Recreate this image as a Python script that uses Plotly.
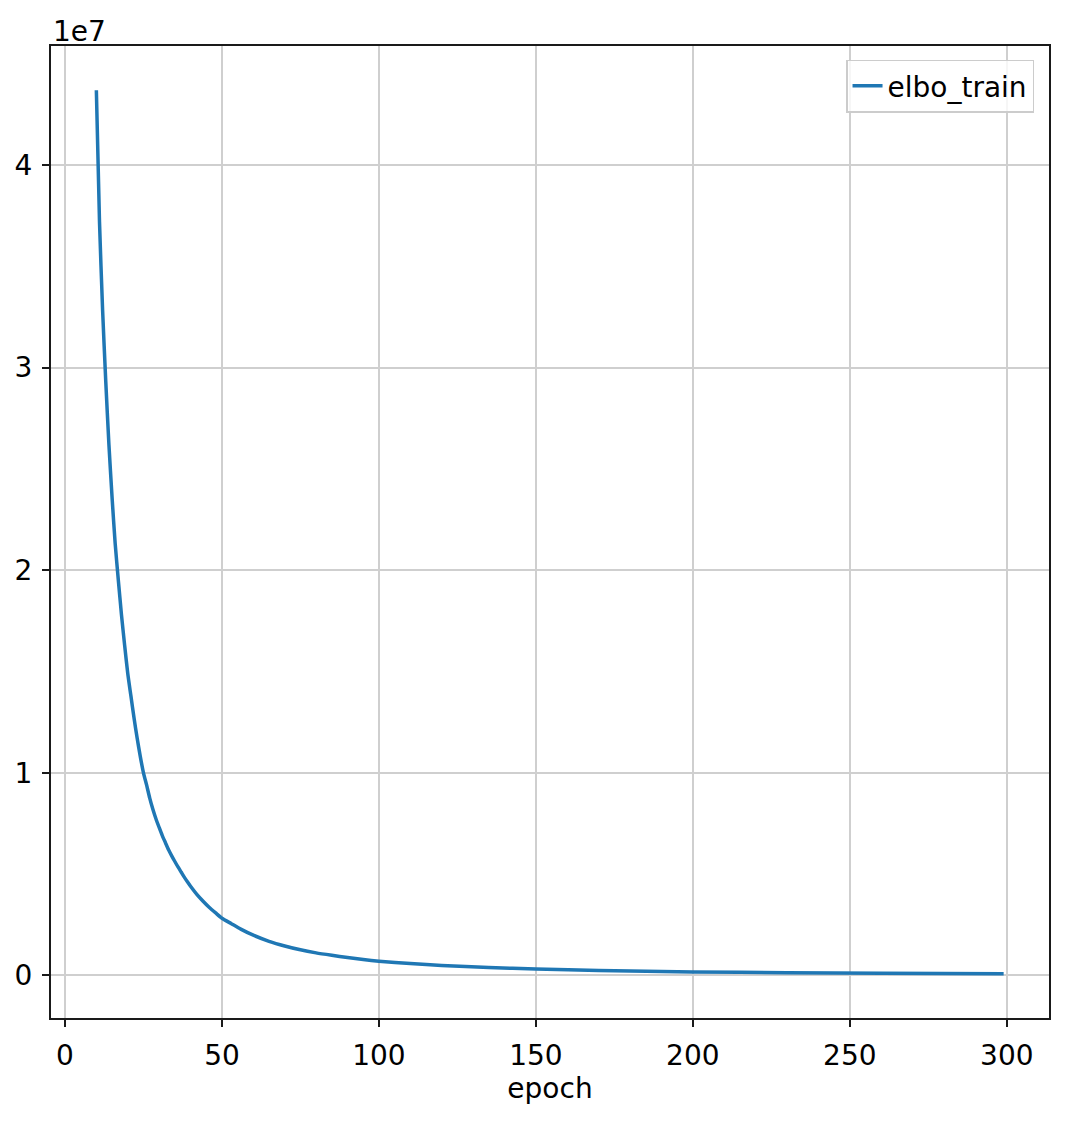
import plotly.graph_objects as go

# Data (values in units of 1e7)
epochs = [10, 11, 12, 13, 14, 15, 16, 17, 18, 19, 20, 21, 22, 23, 24, 25, 26, 27, 28,
          29, 30, 31, 32, 33, 34, 35, 36, 37, 38, 39, 40, 42, 44, 46, 48, 50, 53, 56,
          60, 65, 70, 75, 80, 85, 90, 95, 100, 110, 120, 135, 150, 170, 200, 230,
          260, 299]
elbo_e7 = [4.37, 3.72, 3.28, 2.93, 2.62, 2.36, 2.13, 1.95, 1.78, 1.63, 1.49, 1.38,
           1.27, 1.17, 1.08, 1.00, 0.94, 0.875, 0.82, 0.772, 0.73, 0.69, 0.655, 0.62,
           0.59, 0.562, 0.535, 0.51, 0.485, 0.462, 0.44, 0.40, 0.366, 0.335, 0.308,
           0.282, 0.255, 0.228, 0.198, 0.168, 0.145, 0.126, 0.111, 0.099, 0.088,
           0.078, 0.070, 0.058, 0.049, 0.039, 0.031, 0.024, 0.017, 0.013, 0.010,
           0.0075]
elbo_train = [v * 1e7 for v in elbo_e7]

x_ticks = [0, 50, 100, 150, 200, 250, 300]
y_ticks = [0, 1e7, 2e7, 3e7, 4e7]
y_tick_labels = ["0", "1", "2", "3", "4"]

FONT = "DejaVu Sans"
FS = 28
fig = go.Figure()
fig.add_trace(go.Scatter(x=epochs, y=elbo_train, mode="lines", name="elbo_train",
                         line=dict(color="#1f77b4", width=3.5, shape="spline",
                                   smoothing=0.6)))

xmin, xmax = min(epochs), max(epochs)
xpad = (xmax - xmin) * 0.05
ymin, ymax = min(elbo_train), max(elbo_train)
ypad = (ymax - ymin) * 0.05

axis_common = dict(showline=True, linecolor="#1a1a1a", linewidth=2, mirror=True,
                   ticks="outside", ticklen=7, tickwidth=2, tickcolor="#1a1a1a",
                   showgrid=True, gridcolor="#cfcfcf", gridwidth=1.5, zeroline=False,
                   automargin=False,
                   tickfont=dict(family=FONT, size=FS, color="black"))

fig.update_xaxes(range=[xmin - xpad, xmax + xpad], tickvals=x_ticks,
                 ticklabelstandoff=4,
                 title=dict(text="epoch", font=dict(family=FONT, size=FS, color="black"),
                            standoff=8),
                 **axis_common)
fig.update_yaxes(range=[ymin - ypad, ymax + ypad], tickvals=y_ticks,
                 ticktext=y_tick_labels, ticklabelstandoff=4, **axis_common)

fig.add_annotation(text="1e7", xref="paper", yref="paper", x=0, y=1,
                   xanchor="left", yanchor="bottom", showarrow=False,
                   font=dict(family=FONT, size=FS, color="black"), yshift=-4)

# page body has an ~8px margin, so shrink the figure and margins accordingly
fig.update_layout(
    width=1057, height=1113,
    margin=dict(l=43, r=16, t=38, b=103),
    paper_bgcolor="white", plot_bgcolor="white",
    showlegend=True,
    legend=dict(x=0.985, y=0.986, xanchor="right", yanchor="top",
                bgcolor="rgba(255,255,255,0.8)", bordercolor="#cccccc", borderwidth=1.5,
                font=dict(family=FONT, size=FS, color="black"), itemwidth=30,
                tracegroupgap=0),
    font=dict(family=FONT),
)

fig.write_html("out.html")
